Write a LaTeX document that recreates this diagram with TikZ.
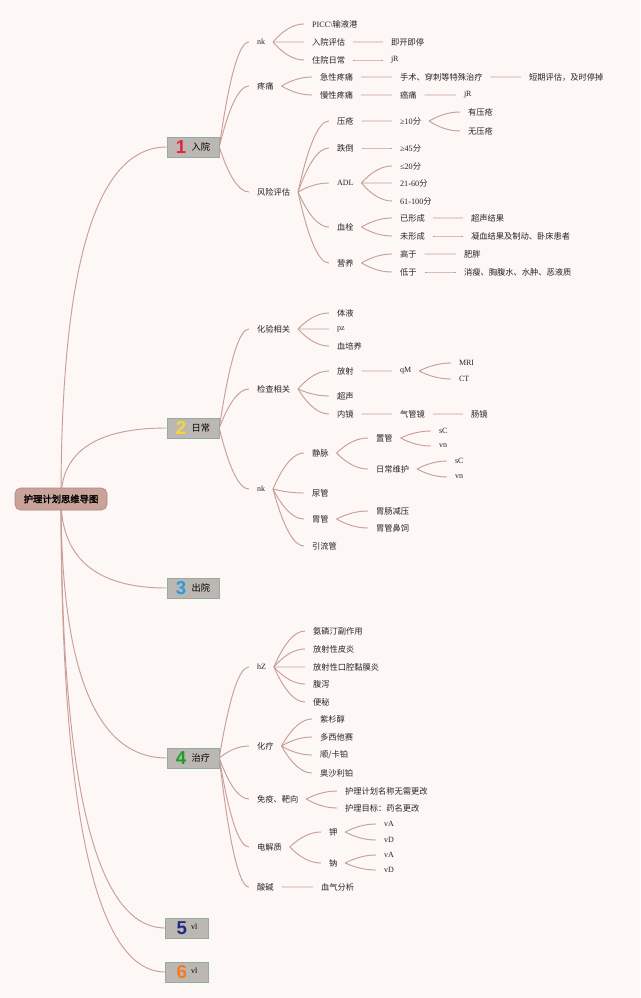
\documentclass[tikz,border=0pt]{standalone}
\usepackage{fontspec}
\setmainfont{Liberation Serif}
\newfontfamily\cjk{Noto Sans CJK SC}
\newfontfamily\cjkb{Noto Sans CJK SC}[FakeBold=2]
\newfontfamily\numf{Liberation Sans}
\usetikzlibrary{calc,backgrounds}
\definecolor{bgc}{HTML}{FDF7F6}
\definecolor{linec}{HTML}{C89E96}
\definecolor{hubc}{HTML}{C9A299}
\definecolor{hubline}{HTML}{B08880}
\definecolor{boxc}{HTML}{BDB7B3}
\definecolor{boxline}{HTML}{93AC9F}
\definecolor{n1}{HTML}{E5233D}
\definecolor{n2}{HTML}{F3D935}
\definecolor{n3}{HTML}{2B9BDB}
\definecolor{n4}{HTML}{1E9E28}
\definecolor{n5}{HTML}{1F2A80}
\definecolor{n6}{HTML}{F47A20}
\newcommand\nomor[2]{{\numf\bfseries\fontsize{14}{14}\selectfont\color{#1}#2}}
\newcommand\vl{\raisebox{4pt}{\rmfamily\fontsize{6}{7}\selectfont vl}}

\begin{document}
\begin{tikzpicture}[x=0.75pt,y=-0.75pt,
    hub/.style={fill=hubc,draw=hubline,rounded corners=4pt,minimum width=69pt,
      minimum height=16.5pt,inner sep=0pt,font=\fontsize{7}{8}\selectfont\cjkb},
    topic/.style={draw=boxline,fill=boxc,minimum width=39pt,minimum height=15pt,
      inner sep=0pt,font=\fontsize{6.9}{8}\selectfont\cjk},
    leaf/.style={anchor=west,inner sep=1pt,outer sep=5pt,xshift=-6pt,text=black!85,
      font=\fontsize{6.2}{7.5}\selectfont\cjk},
    lat/.style={leaf,font=\fontsize{6}{7}\selectfont\rmfamily},
    lnk/.style={draw=linec,line width=0.7pt}]
  \useasboundingbox (0,0) rectangle (640,998);

  % Pusat dan enam cabang
  \node[hub] (root) at (61,499) {护理计划思维导图};
  \node[topic] (b1) at (193,147) {\nomor{n1}{1}\hspace{4pt}\raisebox{2pt}{入院}};
  \node[topic] (b2) at (193,428) {\nomor{n2}{2}\hspace{4pt}\raisebox{2pt}{日常}};
  \node[topic] (b3) at (193,588) {\nomor{n3}{3}\hspace{4pt}\raisebox{2pt}{出院}};
  \node[topic] (b4) at (193,758) {\nomor{n4}{4}\hspace{4pt}\raisebox{2pt}{治疗}};
  \node[topic,minimum width=32pt] (b5) at (187,928) {\nomor{n5}{5}\hspace{3pt}\vl};
  \node[topic,minimum width=32pt] (b6) at (187,972) {\nomor{n6}{6}\hspace{3pt}\vl};

  % 1 入院
  \node[lat] (nk) at (257,42) {nk};
  \node[leaf] (tt) at (257,86) {疼痛};
  \node[leaf] (fx) at (257,192) {风险评估};
  \node[leaf] (picc) at (312,24) {{\rmfamily PICC\textbackslash}输液港};
  \node[leaf] (rypg) at (312,42) {入院评估};
  \node[leaf] (zyrc) at (312,60) {住院日常};
  \node[leaf] (jkjt) at (391,42) {即开即停};
  \node[lat] (jr1) at (391,60) {jR};
  \node[leaf] (jxtt) at (320,77) {急性疼痛};
  \node[leaf] (mxtt) at (320,95) {慢性疼痛};
  \node[leaf] (sscc) at (400,77) {手术、穿刺等特殊治疗};
  \node[leaf] (dqpg) at (529,77) {短期评估，及时停掉};
  \node[leaf] (ait) at (400,95) {癌痛};
  \node[lat] (jr2) at (464,95) {jR};
  \node[leaf] (yc) at (337,121) {压疮};
  \node[leaf] (dd) at (337,148) {跌倒};
  \node[lat] (adl) at (337,183) {ADL};
  \node[leaf] (xs) at (337,227) {血栓};
  \node[leaf] (yy) at (337,263) {营养};
  \node[leaf] (ge10) at (400,121) {{\rmfamily ≥10}分};
  \node[leaf] (yyc) at (468,112) {有压疮};
  \node[leaf] (wyc) at (468,131) {无压疮};
  \node[leaf] (ge45) at (400,148) {{\rmfamily ≥45}分};
  \node[leaf] (le20) at (400,166) {{\rmfamily ≤20}分};
  \node[leaf] (s2160) at (400,183) {{\rmfamily 21-60}分};
  \node[leaf] (s61100) at (400,201) {{\rmfamily 61-100}分};
  \node[leaf] (yxc) at (400,218) {已形成};
  \node[leaf] (wxc) at (400,236) {未形成};
  \node[leaf] (csjg) at (471,218) {超声结果};
  \node[leaf] (nxjg) at (471,236) {凝血结果及制动、卧床患者};
  \node[leaf] (gy) at (400,254) {高于};
  \node[leaf] (dy) at (400,272) {低于};
  \node[leaf] (fp) at (464,254) {肥胖};
  \node[leaf] (xsz) at (464,272) {消瘦、胸腹水、水肿、恶液质};

  % 2 日常
  \node[leaf] (hy) at (257,329) {化验相关};
  \node[leaf] (jc) at (257,389) {检查相关};
  \node[lat] (nk2) at (257,489) {nk};
  \node[leaf] (ty) at (337,313) {体液};
  \node[lat] (pz) at (337,329) {pz};
  \node[leaf] (xpy) at (337,346) {血培养};
  \node[leaf] (fs) at (337,371) {放射};
  \node[leaf] (cs) at (337,396) {超声};
  \node[leaf] (nj) at (337,414) {内镜};
  \node[lat] (qm) at (400,371) {qM};
  \node[lat] (mri) at (459,363) {MRI};
  \node[lat] (ct) at (459,379) {CT};
  \node[leaf] (qgj) at (400,414) {气管镜};
  \node[leaf] (cj) at (471,414) {肠镜};
  \node[leaf] (jm) at (312,453) {静脉};
  \node[leaf] (ng) at (312,493) {尿管};
  \node[leaf] (wg) at (312,519) {胃管};
  \node[leaf] (ylg) at (312,546) {引流管};
  \node[leaf] (zg) at (376,438) {置管};
  \node[leaf] (rcwh) at (376,469) {日常维护};
  \node[lat] (sc1) at (439,431) {sC};
  \node[lat] (vn1) at (439,446) {vn};
  \node[lat] (sc2) at (455,461) {sC};
  \node[lat] (vn2) at (455,477) {vn};
  \node[leaf] (wcjy) at (376,511) {胃肠减压};
  \node[leaf] (wgbs) at (376,528) {胃管鼻饲};

  % 4 治疗
  \node[lat] (hz) at (257,667) {hZ};
  \node[leaf] (hl) at (257,746) {化疗};
  \node[leaf] (my) at (257,799) {免疫、靶向};
  \node[leaf] (djz) at (257,847) {电解质};
  \node[leaf] (sj) at (257,887) {酸碱};
  \node[leaf] (alt) at (313,631) {氨磷汀副作用};
  \node[leaf] (fspy) at (313,649) {放射性皮炎};
  \node[leaf] (fsky) at (313,667) {放射性口腔黏膜炎};
  \node[leaf] (fxie) at (313,684) {腹泻};
  \node[leaf] (bm) at (313,702) {便秘};
  \node[leaf] (zsc) at (320,719) {紫杉醇};
  \node[leaf] (dxts) at (320,737) {多西他赛};
  \node[leaf] (skb) at (320,755) {顺/卡铂};
  \node[leaf] (asl) at (320,773) {奥沙利铂};
  \node[leaf] (hlmc) at (345,791) {护理计划名称无需更改};
  \node[leaf] (hlmb) at (345,808) {护理目标：药名更改};
  \node[leaf] (jia) at (329,832) {钾};
  \node[leaf] (na) at (329,863) {钠};
  \node[lat] (va1) at (384,824) {vA};
  \node[lat] (vd1) at (384,840) {vD};
  \node[lat] (va2) at (384,855) {vA};
  \node[lat] (vd2) at (384,870) {vD};
  \node[leaf] (xqfx) at (321,887) {血气分析};

  % Garis penghubung
  \begin{scope}[on background layer]
    \fill[bgc] (0,0) rectangle (640,998);
    \foreach \b in {b1,b2,b3,b4,b5,b6} {
      \coordinate (c) at (root.center |- \b.west);
      \draw[lnk] (root.center) .. controls ($(root.center)!.667!(c)$)
        and ($(\b.west)!.667!(c)$) .. (\b.west);
    }
    \foreach \a/\b in {b1/nk,b1/tt,b1/fx,nk/picc,nk/rypg,nk/zyrc,rypg/jkjt,zyrc/jr1,
        tt/jxtt,tt/mxtt,jxtt/sscc,sscc/dqpg,mxtt/ait,ait/jr2,
        fx/yc,fx/dd,fx/adl,fx/xs,fx/yy,yc/ge10,ge10/yyc,ge10/wyc,dd/ge45,
        adl/le20,adl/s2160,adl/s61100,xs/yxc,xs/wxc,yxc/csjg,wxc/nxjg,
        yy/gy,yy/dy,gy/fp,dy/xsz,
        b2/hy,b2/jc,b2/nk2,hy/ty,hy/pz,hy/xpy,jc/fs,jc/cs,jc/nj,fs/qm,qm/mri,qm/ct,
        nj/qgj,qgj/cj,nk2/jm,nk2/ng,nk2/wg,nk2/ylg,jm/zg,jm/rcwh,zg/sc1,zg/vn1,
        rcwh/sc2,rcwh/vn2,wg/wcjy,wg/wgbs,
        b4/hz,b4/hl,b4/my,b4/djz,b4/sj,hz/alt,hz/fspy,hz/fsky,hz/fxie,hz/bm,
        hl/zsc,hl/dxts,hl/skb,hl/asl,my/hlmc,my/hlmb,djz/jia,djz/na,
        jia/va1,jia/vd1,na/va2,na/vd2,sj/xqfx} {
      \coordinate (m) at ($(\a.east)!.5!(\b.west)$);
      \coordinate (c) at (m |- \b.west);
      \draw[lnk] (\a.east) .. controls ($(\a.east)!.667!(c)$)
        and ($(\b.west)!.667!(c)$) .. (\b.west);
    }
  \end{scope}
\end{tikzpicture}
\end{document}
